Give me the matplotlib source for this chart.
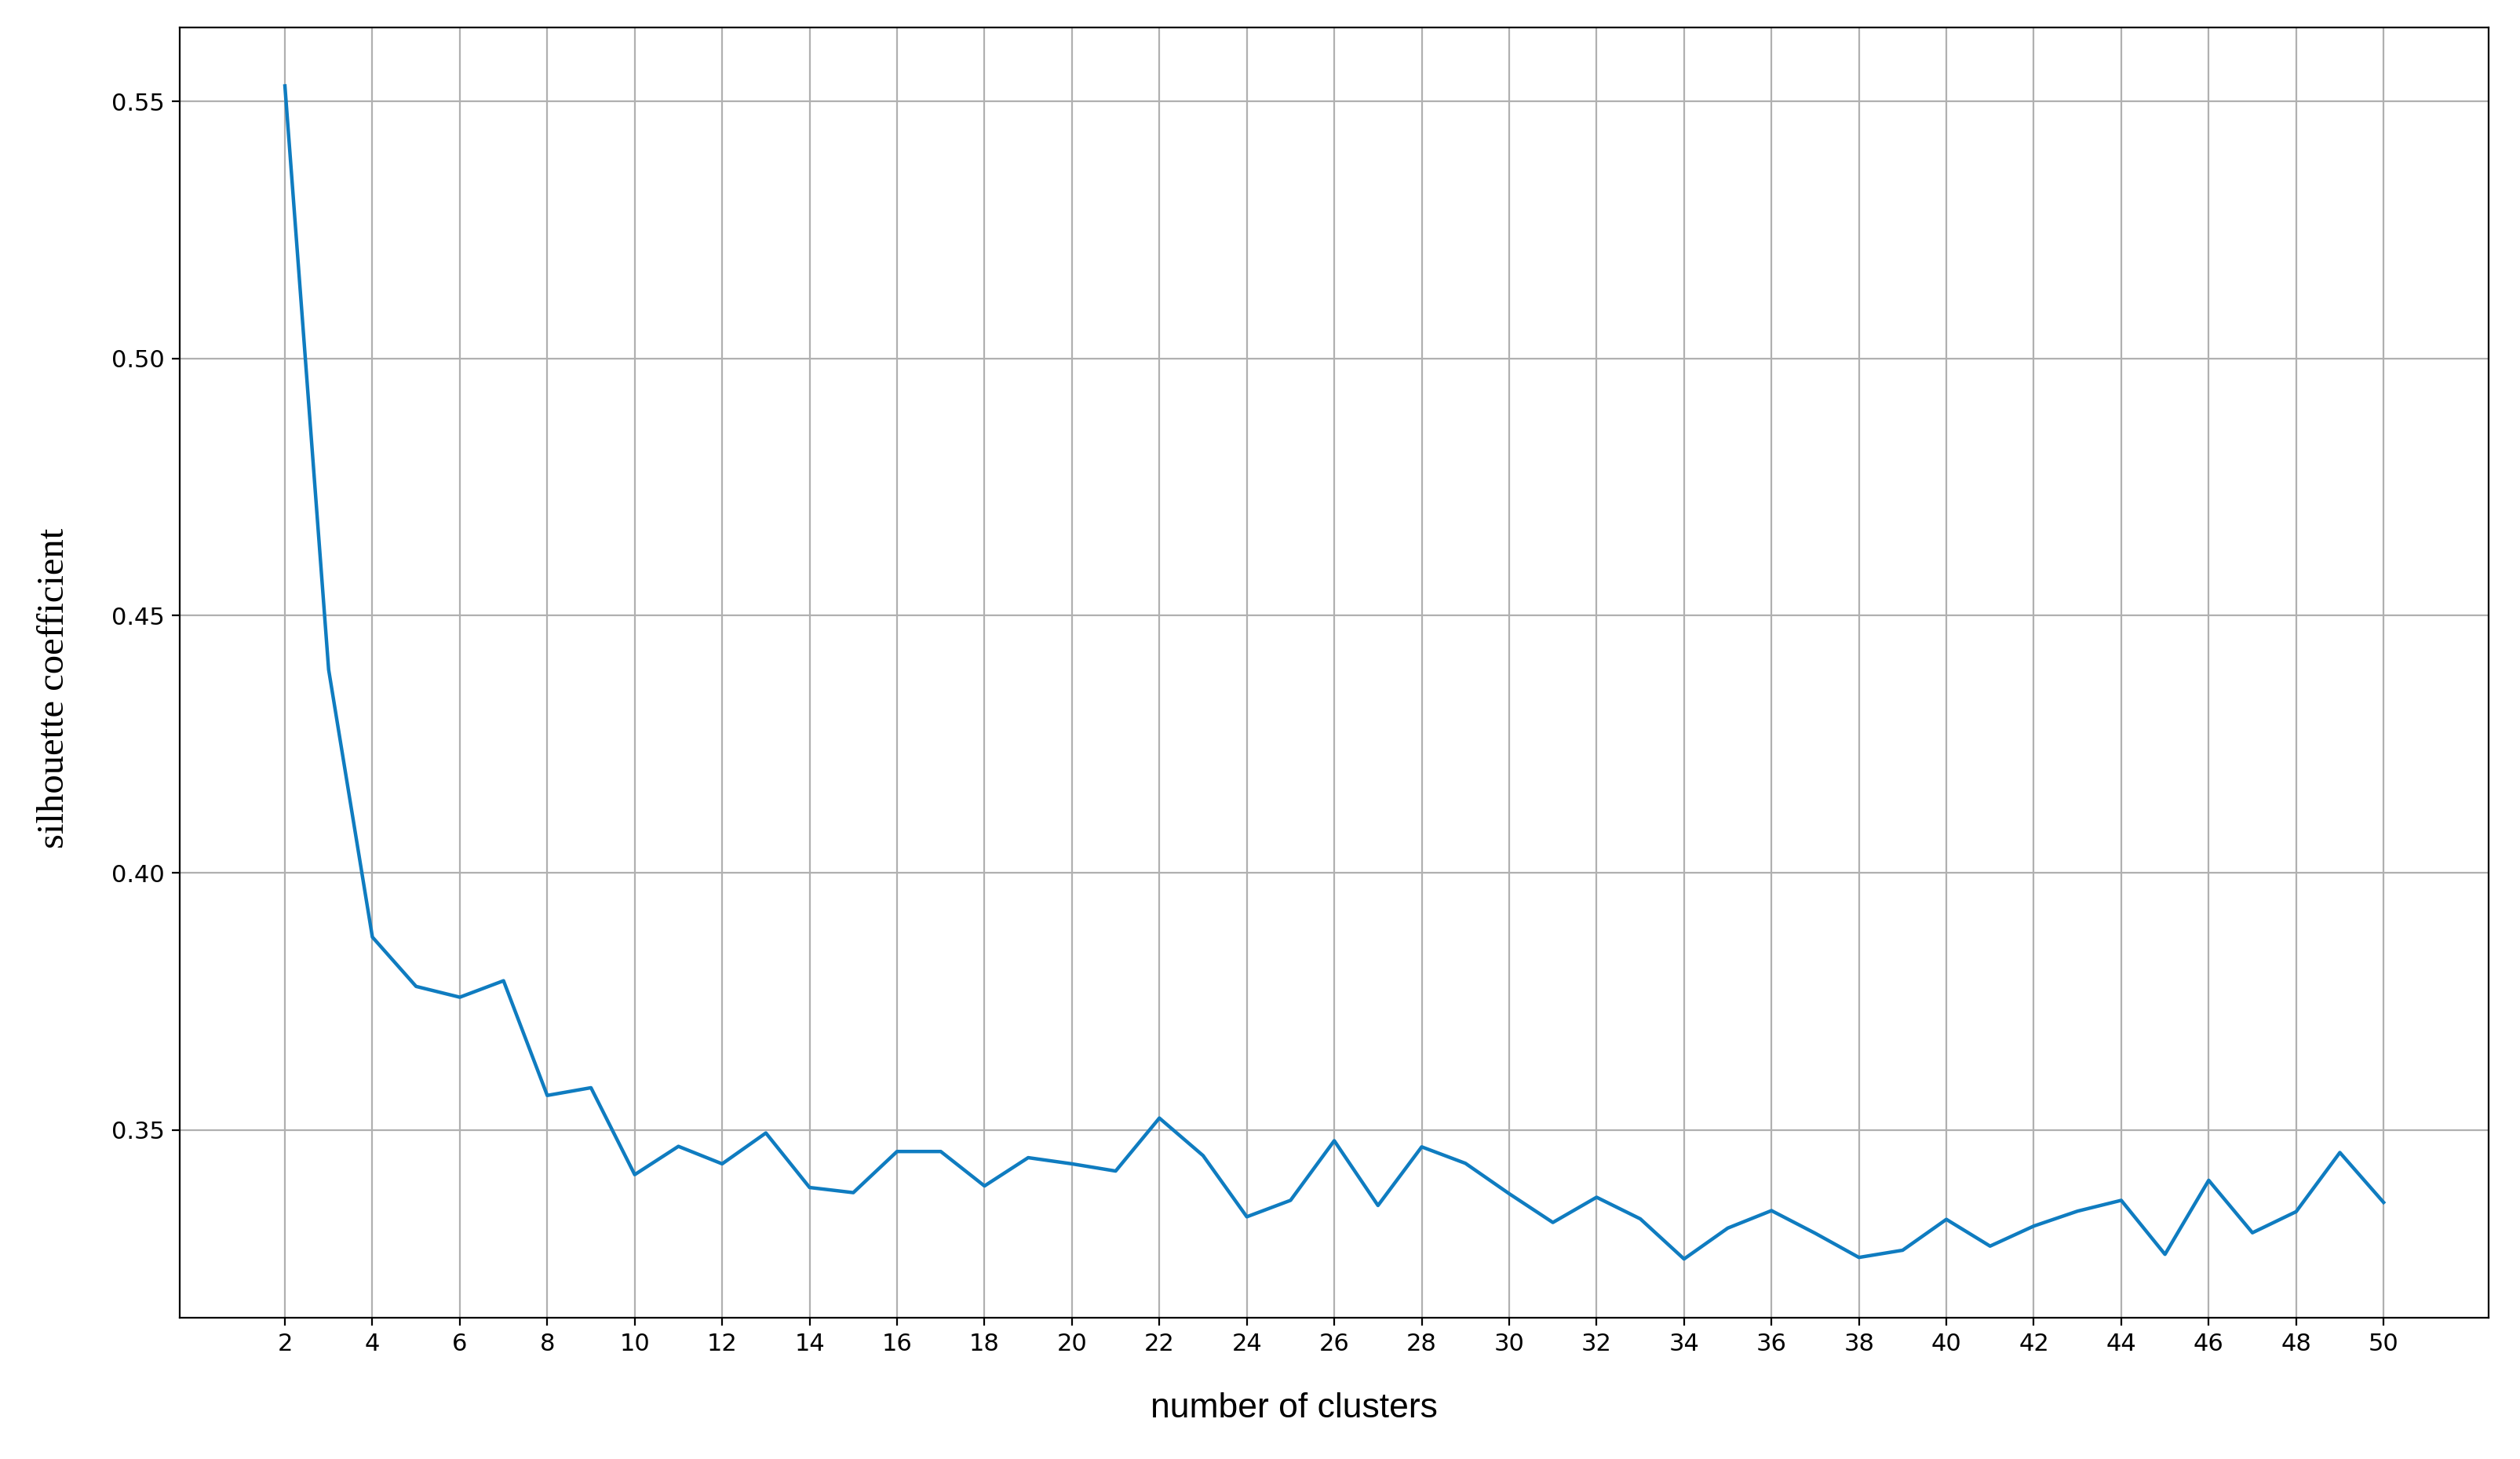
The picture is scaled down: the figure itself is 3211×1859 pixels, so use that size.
import matplotlib
matplotlib.use("Agg")
import matplotlib.pyplot as plt
import numpy as np

# silhouette coefficient per number of clusters
n_clusters = list(range(2, 51))
silhouette = [
    0.5530, 0.4395, 0.3875, 0.3779, 0.3758, 0.3790, 0.3567, 0.3582,   # 2-9
    0.3413, 0.3468, 0.3434, 0.3494, 0.3388, 0.3378, 0.3458, 0.3458,   # 10-17
    0.3391, 0.3446, 0.3434, 0.3420, 0.3523, 0.3450, 0.3331, 0.3363,   # 18-25
    0.3479, 0.3353, 0.3467, 0.3435, 0.3376, 0.3320, 0.3369, 0.3327,   # 26-33
    0.3249, 0.3309, 0.3343, 0.3299, 0.3252, 0.3266, 0.3326, 0.3274,   # 34-41
    0.3313, 0.3342, 0.3363, 0.3258, 0.3402, 0.3300, 0.3341, 0.3456,   # 42-49
    0.3359,                                                           # 50
]
x_ticks = list(range(2, 51, 2))
y_ticks = [0.35, 0.40, 0.45, 0.50, 0.55]

fig = plt.figure(figsize=(16.06, 9.295), dpi=200)
ax = fig.add_axes([0.0714, 0.0969, 0.9158, 0.8844])

ax.plot(n_clusters, silhouette, color='#0f7cc0', linewidth=1.6)

ax.set_xticks(x_ticks)
ax.set_yticks(y_ticks)
ax.set_yticklabels(['%.2f' % v for v in y_ticks])
ax.tick_params(labelsize=11)
ax.grid(True, color='#b0b0b0', linewidth=0.8)

ax.set_xlabel('number of clusters', family='Liberation Sans', fontsize=16)
ax.set_ylabel('silhouette coefficient', family='Liberation Serif', fontsize=17.5)
# labels sit a little off-centre in the original
ax.xaxis.set_label_coords(0.4826, -0.058)
ax.yaxis.set_label_coords(-0.047, 0.4875)

fig.savefig('out.png', dpi=200)
